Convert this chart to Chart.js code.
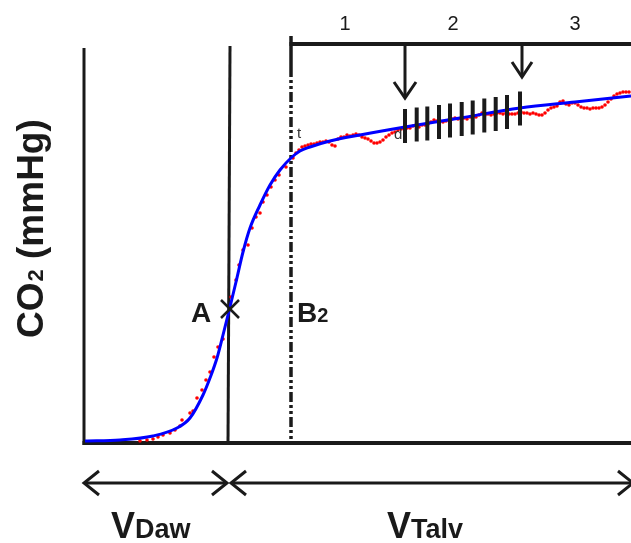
<!DOCTYPE html>
<html>
<head>
<meta charset="utf-8">
<script src="https://cdn.jsdelivr.net/npm/chart.js@4"></script>
<style>
  html, body { margin: 0; padding: 0; background: #fff; }
  #wrap { width: 631px; height: 543px; }
</style>
</head>
<body>
<div id="wrap"><canvas id="capno" width="631" height="543"></canvas></div>
<script>
// fitted curve (expired volume vs CO2)
var fitVolume = [1, 36, 69, 93, 106, 119, 126, 133, 139, 146, 152, 159, 166, 176, 186, 196, 208, 216, 226, 246, 276, 321, 376, 436, 491, 547];
var fitCO2 = [0.2, 0.3, 0.7, 1.5, 2.5, 4.8, 6.5, 8.5, 10.8, 13.6, 16.1, 19.1, 21.5, 23.8, 25.8, 27.3, 28.6, 29.2, 29.6, 30.2, 30.8, 31.6, 32.5, 33.5, 34.1, 34.7];

// measured samples
var sampleVolume = [56, 63, 69, 74, 79, 86, 91, 96, 98, 106, 109, 113, 118, 122, 126, 130, 134, 139, 147, 152, 155, 159, 164, 168, 172, 176, 179, 183, 187, 191, 195, 202,
    209, 212, 215, 218, 221, 224, 227, 230, 233, 236, 239, 242, 245, 248, 251, 254, 257, 260, 263, 266, 269, 272, 275, 278, 281, 284, 287, 290, 293, 296, 299,
    302, 305, 308, 311, 314, 317, 320, 323, 326, 329, 332, 335, 338, 341, 344, 347, 350, 353, 356, 359, 362, 365, 368, 371, 374, 377, 380, 383, 386, 389, 392, 395, 398,
    401, 404, 407, 410, 413, 416, 419, 422, 425, 428, 431, 434, 437, 440, 443, 446, 449, 452, 455, 458, 461, 464, 467, 470, 473, 476, 479, 482, 485, 488, 491, 494, 497,
    500, 503, 506, 509, 512, 515, 518, 521, 524, 527, 530, 533, 536, 539, 542, 545];
var sampleCO2 = [0.2, 0.3, 0.4, 0.6, 0.8, 1.0, 1.3, 1.7, 2.3, 3.0, 3.2, 4.5, 5.3, 6.3, 7.1, 8.6, 9.6, 10.4, 14.6, 16.3, 17.8, 19.3, 19.8, 21.5, 22.6, 23.0, 24.1, 24.8, 25.6, 26.3, 26.8, 27.6,
    28.5, 29.0, 29.3, 29.6, 29.7, 29.8, 29.9, 29.9, 30.0, 30.1, 30.1, 30.2, 30.1, 29.8, 29.7, 30.4, 30.6, 30.6, 30.8, 30.7, 30.8, 30.9, 30.8, 30.6, 30.5, 30.4, 30.2, 30.0, 30.0, 30.1, 30.3,
    30.6, 30.8, 31.0, 31.1, 31.3, 31.4, 31.4, 31.5, 31.5, 31.7, 31.8, 31.6, 31.8, 31.8, 31.9, 32.1, 32.3, 32.2, 32.2, 32.1, 32.2, 32.3, 32.4, 32.5, 32.4, 32.5, 32.5, 32.4, 32.6, 32.6, 32.6, 32.8,
    33.0, 32.8, 32.9, 32.8, 32.9, 33.0, 33.0, 32.9, 33.0, 32.9, 32.9, 32.9, 33.0, 33.1, 33.0, 33.0, 32.9, 33.0, 32.9, 32.8, 32.8, 33.0, 33.3, 33.5, 33.6, 33.7, 34.1, 34.2, 33.9, 33.8, 34.0, 34.0,
    33.8, 33.6, 33.5, 33.5, 33.4, 33.5, 33.5, 33.5, 33.6, 33.8, 34.1, 34.4, 34.7, 34.9, 35.0, 35.1, 35.1, 35.1];

// annotations
var phaseLabels = ['1', '2', '3'];
var phaseLabelVolume = [261, 369, 491];
var hatchVolume = [321, 332.7, 343.3, 355, 366, 377.7, 388.7, 400.3, 411.7, 423, 436];
var hatchCO2 = [31.7, 31.85, 31.95, 32.1, 32.25, 32.4, 32.55, 32.75, 32.9, 33.1, 33.45];
var pointA = 146;     // inflection
var pointB2 = 207;    // end of phase II
var markArrows = [321, 438];

function toPoints(xs, ys) {
    return xs.map(function (x, i) { return { x: x, y: ys[i] }; });
}

var INK = '#1a1a1a';
var FONT = "'Liberation Sans', Arial, sans-serif";

function openHead(ctx, tx, ty, dx, dy, len, half) {
    // open V arrowhead pointing in (dx, dy)
    var nx = -dy, ny = dx;
    ctx.beginPath();
    ctx.moveTo(tx - dx * len + nx * half, ty - dy * len + ny * half);
    ctx.lineTo(tx, ty);
    ctx.lineTo(tx - dx * len - nx * half, ty - dy * len - ny * half);
    ctx.stroke();
}

function line(ctx, x1, y1, x2, y2) {
    ctx.beginPath();
    ctx.moveTo(x1, y1);
    ctx.lineTo(x2, y2);
    ctx.stroke();
}

var diagramPlugin = {
    id: 'diagram',
    beforeDatasetsDraw: function (chart) {
        var ctx = chart.ctx;
        var xs = chart.scales.x, ys = chart.scales.y;
        var X = function (v) { return xs.getPixelForValue(v); };
        var Y = function (v) { return ys.getPixelForValue(v); };
        ctx.save();
        ctx.strokeStyle = INK;
        ctx.lineCap = 'butt';

        // frame
        ctx.lineWidth = 3;
        line(ctx, X(0), Y(39.5), X(0), Y(0) + 2);
        ctx.lineWidth = 4;
        line(ctx, X(0) - 1.5, Y(0), X(547), Y(0));

        // line through A
        ctx.lineWidth = 3;
        line(ctx, X(pointA), Y(39.7), X(pointA - 2), Y(0));

        // dash-dot B2 line
        ctx.lineWidth = 3.5;
        line(ctx, X(pointB2), Y(40.7), X(pointB2), Y(37.6));
        ctx.setLineDash([10, 3, 3, 3, 3, 3]);
        line(ctx, X(pointB2), Y(37.6), X(pointB2), Y(0));
        ctx.setLineDash([]);

        // top bracket line
        ctx.lineWidth = 4;
        line(ctx, X(pointB2) - 1.5, Y(39.9), X(547), Y(39.9));
        ctx.restore();
    },
    afterDatasetsDraw: function (chart) {
        var ctx = chart.ctx;
        var xs = chart.scales.x, ys = chart.scales.y;
        var X = function (v) { return xs.getPixelForValue(v); };
        var Y = function (v) { return ys.getPixelForValue(v); };
        ctx.save();
        ctx.strokeStyle = INK;
        ctx.fillStyle = INK;

        // hatch marks on the plateau
        ctx.lineWidth = 4;
        hatchVolume.forEach(function (v, i) {
            line(ctx, X(v), Y(hatchCO2[i]) - 17, X(v), Y(hatchCO2[i]) + 17);
        });

        // down arrows
        ctx.lineWidth = 3;
        line(ctx, X(markArrows[0]), Y(39.9), X(markArrows[0]), Y(34.5));
        openHead(ctx, X(markArrows[0]), Y(34.5), 0, 1, 16, 11);
        line(ctx, X(markArrows[1]), Y(39.9), X(markArrows[1]), Y(36.6));
        openHead(ctx, X(markArrows[1]), Y(36.6), 0, 1, 15, 10);

        // cross at A
        ctx.lineWidth = 2.5;
        var ax = X(pointA), ay = Y(13.4);
        line(ctx, ax - 9, ay - 9, ax + 9, ay + 9);
        line(ctx, ax - 9, ay + 9, ax + 9, ay - 9);

        // phase numbers
        ctx.font = '20px ' + FONT;
        ctx.textAlign = 'center';
        ctx.textBaseline = 'alphabetic';
        phaseLabels.forEach(function (t, i) {
            ctx.fillText(t, X(phaseLabelVolume[i]), 30);
        });

        // A and B2
        ctx.textAlign = 'left';
        ctx.font = 'bold 28px ' + FONT;
        ctx.fillText('A', 191, 322);
        ctx.fillText('B', 297, 322);
        var bw = ctx.measureText('B').width;
        ctx.font = 'bold 20px ' + FONT;
        ctx.fillText('2', 297 + bw, 322);

        // small t / d
        ctx.fillStyle = '#333';
        ctx.font = '15px ' + FONT;
        ctx.fillText('t', 297, 138);
        ctx.fillText('d', 394, 139);
        ctx.fillStyle = INK;

        // y axis title
        ctx.save();
        ctx.translate(43, 338);
        ctx.rotate(-Math.PI / 2);
        ctx.font = 'bold 37px ' + FONT;
        ctx.fillText('CO', 0, 0);
        var w = ctx.measureText('CO').width;
        ctx.font = 'bold 22px ' + FONT;
        ctx.fillText('2', w + 1, 0);
        w += ctx.measureText('2').width + 1;
        ctx.font = 'bold 37px ' + FONT;
        ctx.fillText(' (mmHg)', w, 0);
        ctx.restore();

        // volume arrows below
        ctx.lineWidth = 3;
        var ay2 = 483;
        line(ctx, X(0), ay2, X(pointA - 2) - 1, ay2);
        openHead(ctx, X(0), ay2, -1, 0, 15, 12);
        openHead(ctx, X(pointA - 2) - 1, ay2, 1, 0, 15, 12);
        line(ctx, X(pointA - 2) + 3, ay2, X(547) + 2, ay2);
        openHead(ctx, X(pointA - 2) + 3, ay2, -1, 0, 15, 12);
        openHead(ctx, X(547) + 2, ay2, 1, 0, 15, 12);

        // volume labels
        ctx.font = 'bold 36px ' + FONT;
        ctx.fillText('V', 111, 538);
        var vw = ctx.measureText('V').width;
        ctx.font = 'bold 27px ' + FONT;
        ctx.fillText('Daw', 111 + vw, 538);
        ctx.font = 'bold 36px ' + FONT;
        ctx.fillText('V', 387, 538);
        ctx.font = 'bold 27px ' + FONT;
        ctx.fillText('Talv', 387 + vw, 538);

        ctx.restore();
    }
};

new Chart(document.getElementById('capno').getContext('2d'), {
    type: 'line',
    data: {
        datasets: [{
            label: 'Fit',
            data: toPoints(fitVolume, fitCO2),
            borderColor: '#0000ff',
            borderWidth: 3,
            pointRadius: 0,
            fill: false,
            cubicInterpolationMode: 'monotone'
        }, {
            label: 'Samples',
            data: toPoints(sampleVolume, sampleCO2),
            showLine: false,
            pointRadius: 1.8,
            pointBorderWidth: 0,
            pointBackgroundColor: '#ff0000',
            backgroundColor: '#ff0000'
        }]
    },
    options: {
        responsive: false,
        animation: false,
        layout: { autoPadding: false, padding: { left: 84, right: 0, top: 43, bottom: 100 } },
        plugins: {
            legend: { display: false },
            tooltip: { enabled: false }
        },
        scales: {
            x: { type: 'linear', min: 0, max: 547, display: false },
            y: { min: 0, max: 40, display: false }
        }
    },
    plugins: [diagramPlugin]
});
</script>
</body>
</html>
